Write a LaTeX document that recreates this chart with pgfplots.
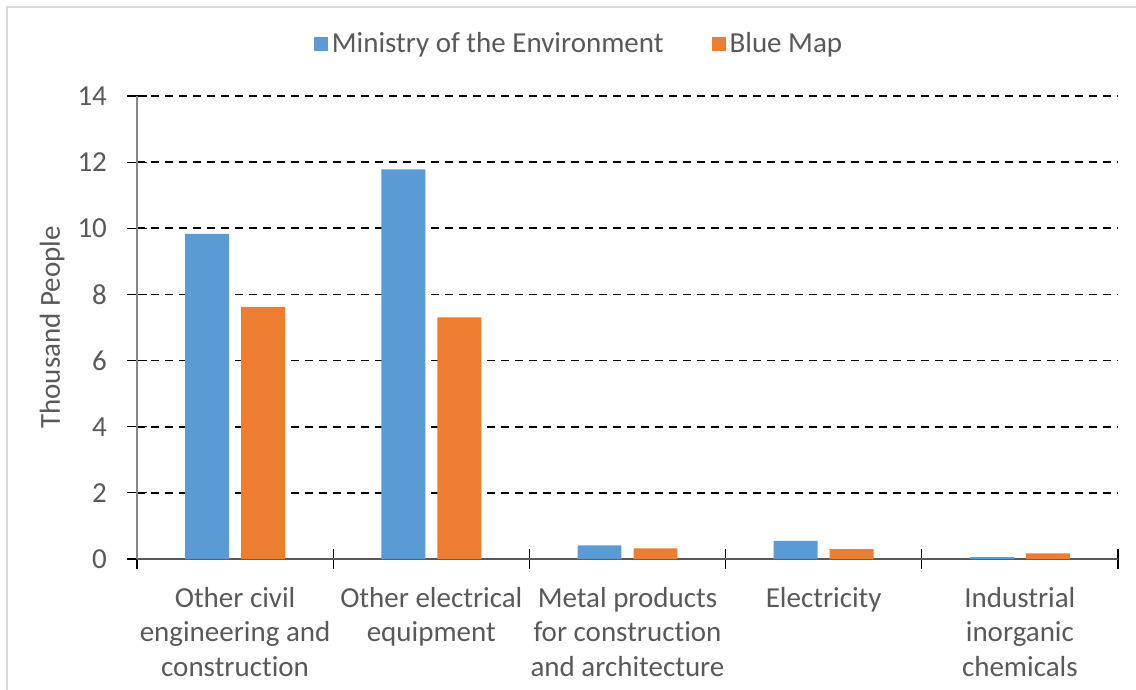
\documentclass[border=0pt]{standalone}
\usepackage{pgfplots}
\pgfplotsset{compat=1.18}
\usepackage{fontspec}
\setmainfont{Carlito}[Ligatures=NoCommon]

\definecolor{moe}{HTML}{5B9BD5}
\definecolor{bluemap}{HTML}{ED7D31}
\definecolor{txt}{HTML}{595959}
\definecolor{frame}{HTML}{D9D9D9}
\definecolor{yaxis}{HTML}{868686}

\pgfplotstableread{
idx moe   bluemap
0   9.83  7.62
1   11.78 7.31
2   0.41  0.32
3   0.55  0.30
4   0.06  0.17
}\jobs

\begin{document}
\begin{tikzpicture}
\useasboundingbox (0,0) rectangle (568pt,-345pt);
% chart frame
\draw[frame, line width=1pt] (3.5pt,-345pt) -- (3.5pt,-3.5pt) -- (568pt,-3.5pt);
\begin{axis}[
  at={(68.5pt,-279.5pt)}, anchor=south west,
  scale only axis, width=490.5pt, height=231.5pt,
  xmin=-0.5, xmax=4.5, ymin=0, ymax=14,
  axis lines*=left,
  x axis line style={draw=txt, line width=1pt},
  y axis line style={draw=yaxis, line width=0.8pt},
  xtick={-0.5,0.5,...,4.5},
  x tick label as interval,
  xticklabels={{Other civil\\engineering and\\construction},
               {Other electrical\\equipment},
               {Metal products\\for construction\\and architecture},
               {Electricity},
               {Industrial\\inorganic\\chemicals}},
  ytick={0,2,...,14},
  tick align=center,
  major tick length=10pt,
  tick style={draw=black, line width=0.6pt},
  /pgf/number format/assume math mode=true,
  tick label style={font=\fontsize{14.5}{17.25}\selectfont, text=txt},
  xticklabel style={align=center, anchor=north, yshift=-5.5pt},
  yticklabel style={anchor=east, xshift=-6.5pt},
  ymajorgrids,
  grid style={draw=black, line width=0.9pt, dash pattern=on 4pt off 3pt},
  ylabel={Thousand People},
  every axis y label/.style={at={(axis description cs:-0.0866,0.5)}, rotate=90,
    anchor=center, font=\fontsize{14.5}{17}\selectfont, text=txt},
  legend columns=2,
  legend style={at={(rel axis cs:0.4516,1.1123)}, anchor=center, draw=none,
    font=\fontsize{14.5}{17}\selectfont, text=txt,
    /tikz/every even column/.append style={column sep=22pt}},
  legend image code/.code={\fill[#1] (0pt,-3.5pt) rectangle (7pt,3.5pt);},
  legend cell align=left,
]
\addplot[ybar, bar width=0.224, bar shift=-0.1427, fill=moe, draw=none]
  table[x=idx, y=moe] {\jobs};
\addlegendentry{Ministry of the Environment}
\addplot[ybar, bar width=0.224, bar shift=0.1427, fill=bluemap, draw=none]
  table[x=idx, y=bluemap] {\jobs};
\addlegendentry{Blue Map}
\end{axis}
\end{tikzpicture}
\end{document}
